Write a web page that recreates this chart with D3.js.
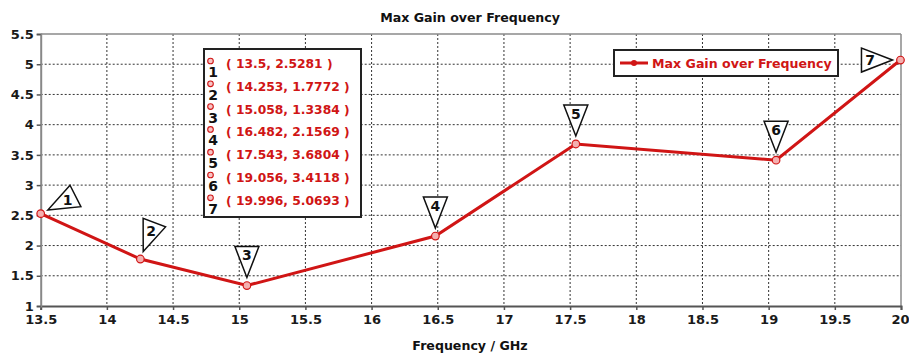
<!DOCTYPE html>
<html>
<head>
<meta charset="utf-8">
<script src="https://cdn.jsdelivr.net/npm/d3@7"></script>
<style>
  body { margin: 0; background: #fff; }
  svg { display: block; font-family: "DejaVu Sans", Verdana, sans-serif; }
</style>
</head>
<body>
<svg id="chart" width="909" height="356"></svg>
<script>
// data
const freqs = [13.5, 14.253, 15.058, 16.482, 17.543, 19.056, 19.996];
const gains = [2.5281, 1.7772, 1.3384, 2.1569, 3.6804, 3.4118, 5.0693];
const markerNames = ["1", "2", "3", "4", "5", "6", "7"];
const xTickValues = [13.5, 14, 14.5, 15, 15.5, 16, 16.5, 17, 17.5, 18, 18.5, 19, 19.5, 20];
const yTickValues = [1, 1.5, 2, 2.5, 3, 3.5, 4, 4.5, 5, 5.5];
const seriesName = "Max Gain over Frequency";
const chartTitle = "Max Gain over Frequency";
const xTitle = "Frequency / GHz";

// direction (deg) of each callout triangle, seen from its point
const calloutAngles = [-27, -69, -90, -90, -90, -90, 180];

const margin = {left: 40.7, right: 8, top: 34, bottom: 50};
const width = 909, height = 356;
const red = "#d01515";

let svg = d3.select("#chart");
let viewWidth = width - margin.left - margin.right;
let viewHeight = height - margin.top - margin.bottom;

let x = d3.scaleLinear().domain([13.5, 20]).range([0, viewWidth]);
let y = d3.scaleLinear().domain([1, 5.5]).range([viewHeight, 0]);

let plot = svg.append("g").attr("transform", `translate(${margin.left},${margin.top})`);

// grid
plot.append("g").selectAll("line").data(xTickValues.slice(1, -1)).join("line")
    .attr("x1", d => x(d)).attr("x2", d => x(d))
    .attr("y1", 0).attr("y2", viewHeight)
    .style("stroke", "#333").style("stroke-width", 1).style("stroke-dasharray", "2,2");
plot.append("g").selectAll("line").data(yTickValues.slice(1, -1)).join("line")
    .attr("x1", 0).attr("x2", viewWidth)
    .attr("y1", d => y(d)).attr("y2", d => y(d))
    .style("stroke", "#333").style("stroke-width", 1).style("stroke-dasharray", "2,2");

// frame top / right
plot.append("line").attr("x1", 0).attr("x2", viewWidth).attr("y1", 0).attr("y2", 0)
    .style("stroke", "#8a8a8a").style("stroke-width", 1.5);
plot.append("line").attr("x1", viewWidth).attr("x2", viewWidth).attr("y1", 0).attr("y2", viewHeight)
    .style("stroke", "#8a8a8a").style("stroke-width", 1.5);

// axes
let axisBottom = plot.append("g").attr("transform", `translate(0,${viewHeight})`)
    .call(d3.axisBottom(x).tickValues(xTickValues).tickSize(4).tickPadding(5).tickFormat(d3.format("")));
let axisLeft = plot.append("g")
    .call(d3.axisLeft(y).tickValues(yTickValues).tickSize(4).tickPadding(3).tickFormat(d3.format("")));

axisBottom.select(".domain").style("stroke", "#555").style("stroke-width", 2);
axisLeft.select(".domain").style("stroke", "#888").style("stroke-width", 2);
[axisBottom, axisLeft].forEach(a => {
    a.selectAll(".tick line").style("stroke", "#555").style("stroke-width", 1.5);
    a.selectAll(".tick text").style("font-size", "13px").style("font-weight", "bold")
     .style("fill", "#1a1a1a").style("font-family", "DejaVu Sans, sans-serif");
});
// keep the last x label inside the page
axisBottom.selectAll(".tick text").filter(d => d === 20).attr("text-anchor", "end").attr("x", 8);

// line
let pts = freqs.map((f, i) => [f, gains[i]]);
plot.append("path").datum(pts)
    .attr("d", d3.line().x(d => x(d[0])).y(d => y(d[1])))
    .style("fill", "none").style("stroke", red).style("stroke-width", 3);
plot.append("g").selectAll("circle").data(pts).join("circle")
    .attr("cx", d => x(d[0])).attr("cy", d => y(d[1])).attr("r", 3.8)
    .style("fill", "#f4b0b0").style("stroke", red).style("stroke-width", 1.2);

// callout triangles
let gap = 8, triH = 31, halfW = 12;
let callouts = plot.append("g");
pts.forEach((d, i) => {
    let px = x(d[0]), py = y(d[1]);
    let a = calloutAngles[i] * Math.PI / 180;
    let ux = Math.cos(a), uy = Math.sin(a);
    let nx = -uy, ny = ux;
    let tip = [px + ux * gap, py + uy * gap];
    let bc = [px + ux * (gap + triH), py + uy * (gap + triH)];
    let p1 = [bc[0] + nx * halfW, bc[1] + ny * halfW];
    let p2 = [bc[0] - nx * halfW, bc[1] - ny * halfW];
    callouts.append("path")
        .attr("d", "M" + [tip, p1, p2].map(p => p.join(",")).join("L") + "Z")
        .style("fill", "#fff").style("stroke", "#111").style("stroke-width", 1.5)
        .style("stroke-linejoin", "miter");
    let cx = px + ux * (gap + triH * 0.72), cy = py + uy * (gap + triH * 0.72);
    callouts.append("text").attr("x", cx).attr("y", cy)
        .attr("text-anchor", "middle").attr("dominant-baseline", "central")
        .style("font-size", "14px").style("font-weight", "bold").style("fill", "#111")
        .text(markerNames[i]);
});

// marker table
let tbl = svg.append("g").attr("transform", "translate(204,49)");
tbl.append("rect").attr("width", 157).attr("height", 168)
    .style("fill", "#fff").style("stroke", "#222").style("stroke-width", 2);
pts.forEach((d, i) => {
    let ry = 15 + i * 22.8;
    tbl.append("circle").attr("cx", 6.5).attr("cy", ry - 3).attr("r", 2.8)
        .style("fill", "#f7c4c4").style("stroke", red).style("stroke-width", 1.1);
    tbl.append("text").attr("x", 9).attr("y", ry + 13)
        .attr("text-anchor", "middle")
        .style("font-size", "14px").style("font-weight", "bold").style("fill", "#111")
        .text(markerNames[i]);
    tbl.append("text").attr("x", 22).attr("y", ry)
        .attr("dominant-baseline", "central")
        .style("font-size", "12.3px").style("font-weight", "bold").style("fill", red)
        .text(`( ${d[0]}, ${d[1]} )`);
});

// legend
let leg = svg.append("g").attr("transform", "translate(614,50)");
leg.append("rect").attr("width", 224).attr("height", 26)
    .style("fill", "#fff").style("stroke", "#222").style("stroke-width", 2);
leg.append("line").attr("x1", 6).attr("x2", 34).attr("y1", 13).attr("y2", 13)
    .style("stroke", red).style("stroke-width", 3);
leg.append("circle").attr("cx", 20).attr("cy", 13).attr("r", 3).style("fill", red);
leg.append("text").attr("x", 38).attr("y", 13).attr("dominant-baseline", "central")
    .style("font-size", "12.6px").style("font-weight", "bold").style("fill", red)
    .text(seriesName);

// titles
svg.append("text").attr("x", 470).attr("y", 17).attr("text-anchor", "middle")
    .attr("dominant-baseline", "central")
    .style("font-size", "12.6px").style("font-weight", "bold").style("fill", "#111")
    .text(chartTitle);
svg.append("text").attr("x", 470).attr("y", 345).attr("text-anchor", "middle")
    .attr("dominant-baseline", "central")
    .style("font-size", "12.6px").style("font-weight", "bold").style("fill", "#111")
    .text(xTitle);
</script>
</body>
</html>
